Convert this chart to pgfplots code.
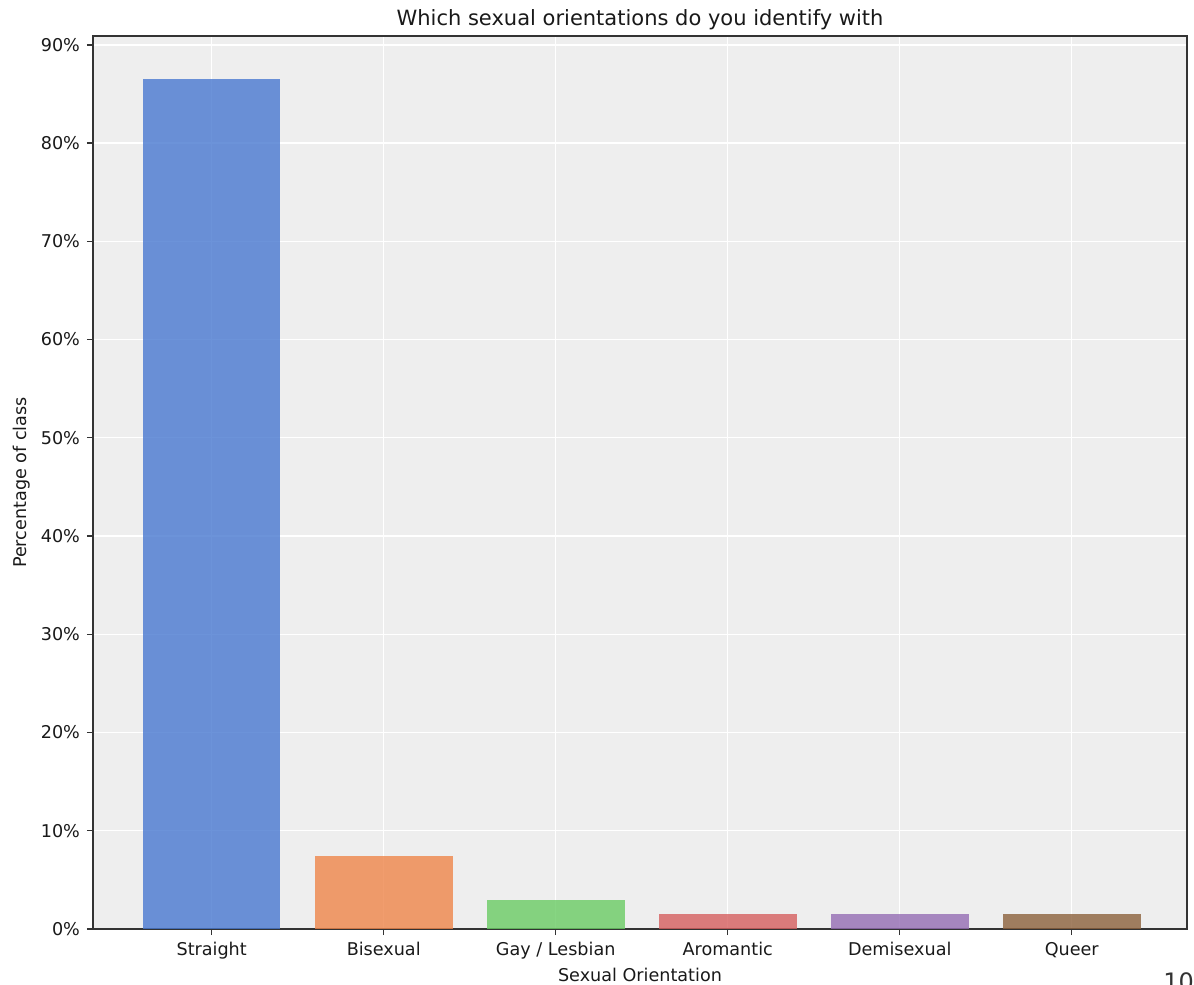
\documentclass[border=0pt]{standalone}
\usepackage{pgfplots}
\pgfplotsset{compat=1.18}
\usepackage{fontspec}
\setmainfont{DejaVu Sans}
\definecolor{bggray}{HTML}{EEEEEE}
\definecolor{spine}{HTML}{333333}
\definecolor{cblue}{HTML}{4878D0}
\definecolor{corange}{HTML}{EE854A}
\definecolor{cgreen}{HTML}{6ACC64}
\definecolor{cred}{HTML}{D65F5F}
\definecolor{cpurple}{HTML}{956CB4}
\definecolor{cbrown}{HTML}{8C613C}
\begin{document}
\begin{tikzpicture}
\path[use as bounding box] (0,0) rectangle (597pt,492.5pt);
\begin{axis}[
  at={(46.5pt,28pt)}, anchor=south west,
  scale only axis, width=547pt, height=446.5pt,
  xmin=-0.69, xmax=5.67, ymin=0, ymax=90.9,
  axis background/.style={fill=bggray},
  axis line style={spine, line width=0.8pt},
  grid=major, major grid style={white, line width=0.7pt},
  tick pos=left, tick align=outside,
  major tick length=3pt,
  tick style={spine, line width=0.7pt},
  xtick={0,1,2,3,4,5},
  xticklabels={Straight,Bisexual,Gay / Lesbian,Aromantic,Demisexual,Queer},
  ytick={0,10,20,30,40,50,60,70,80,90},
  yticklabels={0\%,10\%,20\%,30\%,40\%,50\%,60\%,70\%,80\%,90\%},
  ticklabel style={font=\fontsize{8.8}{10}\selectfont, text=black!90},
  xlabel={Sexual Orientation},
  ylabel={Percentage of class},
  label style={font=\fontsize{8.8}{10}\selectfont, text=black!90},
  xlabel style={at={(axis description cs:0.5,-0.0515)}, anchor=center},
  ylabel style={at={(axis description cs:-0.0649,0.5)}, anchor=center, rotate=0},
  title={Which sexual orientations do you identify with},
  title style={font=\fontsize{10.5}{12}\selectfont, text=black!90, at={(axis description cs:0.5,1)}, anchor=south, yshift=-6.5pt},
  ybar, bar width=0.8, bar shift=0pt,
  every axis plot/.append style={draw=none, fill opacity=0.8},
]
\addplot[fill=cblue] coordinates {(0,86.57)};
\addplot[fill=corange] coordinates {(1,7.46)};
\addplot[fill=cgreen] coordinates {(2,2.99)};
\addplot[fill=cred] coordinates {(3,1.49)};
\addplot[fill=cpurple] coordinates {(4,1.49)};
\addplot[fill=cbrown] coordinates {(5,1.49)};
\end{axis}
\node[anchor=north west, inner sep=0pt, font=\fontsize{12}{14}\selectfont, text=black!80] at (581.5pt,6.5pt) {10};
\end{tikzpicture}
\end{document}
